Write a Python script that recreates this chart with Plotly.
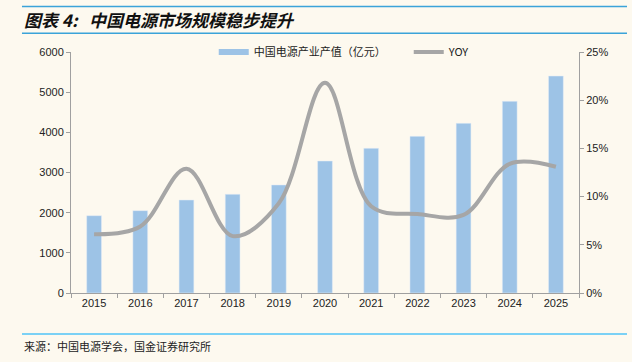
import plotly.graph_objects as go

years = ["2015", "2016", "2017", "2018", "2019", "2020", "2021", "2022", "2023", "2024", "2025"]
output_value = [1925, 2050, 2315, 2457, 2689, 3286, 3602, 3900, 4224, 4772, 5402]
yoy = [0.061, 0.069, 0.129, 0.059, 0.093, 0.218, 0.090, 0.082, 0.081, 0.134, 0.131]

bar_name = "中国电源产业产值（亿元）"
line_name = "YOY"
title_text = "图表 4:\u00a0\u00a0\u00a0中国电源市场规模稳步提升"
source_text = "来源：中国电源学会，国金证券研究所"

BG = "#fdf9ef"
BLUE = "#9dc3e6"
GRAY = "#a6a6a6"
FONT = "Liberation Sans, Noto Sans CJK SC, sans-serif"
CJK = "Noto Sans CJK SC, sans-serif"

fig = go.Figure()
fig.add_trace(go.Bar(x=years, y=output_value, name=bar_name, marker_color=BLUE,
                     width=0.32, showlegend=False))
# legend-only swatch for bars (excel-style line swatch)
fig.add_trace(go.Scatter(x=[years[0]], y=[None], mode="lines", name=bar_name,
                         line=dict(color=BLUE, width=6)))
fig.add_trace(go.Scatter(x=years, y=yoy, name=line_name, mode="lines", yaxis="y2",
                         line=dict(color=GRAY, width=4, shape="spline", smoothing=1.0)))

fig.update_layout(
    width=632, height=362,
    margin=dict(l=71, r=53, t=52, b=69, autoexpand=False),
    paper_bgcolor=BG, plot_bgcolor=BG,
    font=dict(family=FONT, size=11, color="#222"),
    showlegend=True,
    legend=dict(orientation="h", x=0.281, xanchor="left", y=1.0, yanchor="middle",
                bgcolor="rgba(0,0,0,0)", font=dict(family=CJK, size=11, color="#222"),
                itemwidth=30, tracegroupgap=0, entrywidth=150),
    xaxis=dict(showline=True, linecolor="#a0a0a0", linewidth=1, ticks="outside",
               tickson="boundaries", ticklen=4, tickcolor="#a0a0a0",
               showgrid=False, tickfont=dict(size=11, color="#222")),
    yaxis=dict(range=[0, 6000], dtick=1000, showline=True, linecolor="#a0a0a0",
               ticks="outside", ticklen=4, tickcolor="#a0a0a0", showgrid=False,
               zeroline=False, tickfont=dict(size=11, color="#222")),
    yaxis2=dict(range=[0, 0.25], dtick=0.05, tickformat=".0%", overlaying="y",
                side="right", showline=True, linecolor="#a0a0a0", ticks="outside",
                ticklen=4, tickcolor="#a0a0a0", showgrid=False, zeroline=False,
                tickfont=dict(size=11, color="#222")),
    shapes=[
        dict(type="line", xref="paper", yref="paper", x0=-0.0965, x1=1.0945,
             y0=1.1883, y1=1.1883, line=dict(color="#3ba3d9", width=1.5)),
        dict(type="line", xref="paper", yref="paper", x0=-0.0965, x1=1.0945,
             y0=1.0776, y1=1.0776, line=dict(color="#3ba3d9", width=1.5)),
        dict(type="line", xref="paper", yref="paper", x0=-0.0965, x1=1.0945,
             y0=-0.170, y1=-0.170, line=dict(color="#4fc3f7", width=1.5)),
    ],
    annotations=[
        dict(text="<b><i>" + title_text + "</i></b>", xref="paper", yref="paper",
             x=-0.0965, y=1.136, xanchor="left", yanchor="middle", showarrow=False,
             font=dict(family=CJK, size=17, color="#111")),
        dict(text=source_text, xref="paper", yref="paper",
             x=-0.0965, y=-0.218, xanchor="left", yanchor="middle", showarrow=False,
             font=dict(family=CJK, size=11, color="#222")),
    ],
)

fig.write_html(
    "out.html",
    config={"displayModeBar": False},
    post_script="document.body.style.margin='0';document.body.style.background='" + BG + "';",
)
